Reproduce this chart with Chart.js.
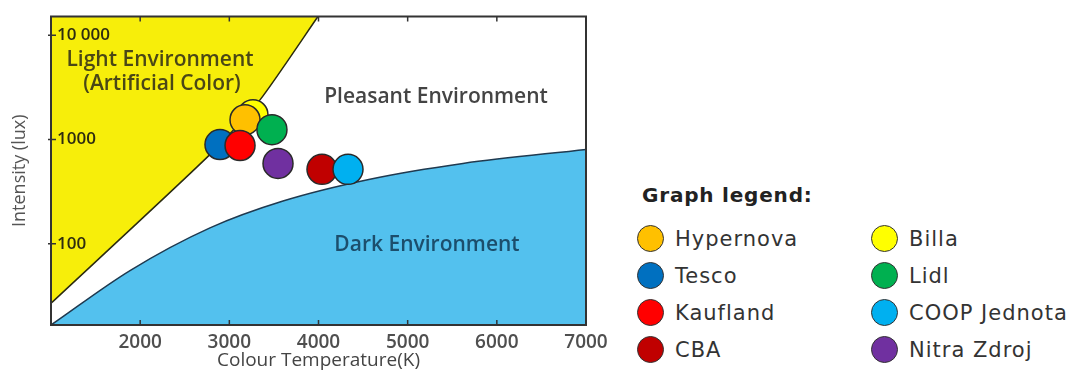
<!DOCTYPE html>
<html>
<head>
<meta charset="utf-8">
<script src="https://cdn.jsdelivr.net/npm/chart.js@4.4.1/dist/chart.umd.min.js"></script>
<style>
  body { margin: 0; background: #fff; width: 1090px; height: 374px; overflow: hidden; position: relative; }
  #wrap { position: absolute; left: 0; top: 0; width: 630px; height: 374px; }
  #legendTitle { position: absolute; left: 642px; top: 182px; font: bold 20px 'DejaVu Sans', sans-serif; letter-spacing: 0.8px; line-height: 26px; color: #222; }
  #legend { position: absolute; left: 637px; top: 220px; display: grid; grid-template-columns: 234px auto; grid-auto-flow: column; grid-template-rows: repeat(4, 37px); }
  .item { display: flex; align-items: center; font: 21px 'DejaVu Sans', sans-serif; letter-spacing: 1px; color: #333; }
  .dot { width: 25px; height: 25px; border-radius: 50%; border: 1.5px solid #333; margin-right: 11px; }
</style>
</head>
<body>
<div id="wrap"><canvas id="kruithof" width="630" height="374"></canvas></div>
<div id="legendTitle">Graph legend:</div>
<div id="legend"></div>
<script>
// stores, in legend order
const stores = ['Hypernova', 'Tesco', 'Kaufland', 'CBA', 'Billa', 'Lidl', 'COOP Jednota', 'Nitra Zdroj'];
const storeColors = ['#FFC000', '#0070C0', '#FF0000', '#C00000', '#FFFF00', '#00B050', '#00B0F0', '#7030A0'];
const cctK = [3176, 2895, 3120, 4039, 3265, 3478, 4331, 3546];
const lux = [1550, 896, 877, 518, 1730, 1245, 518, 590];
// higher = drawn later (on top)
const stackRank = [2, 4, 5, 7, 1, 3, 8, 6];

// region boundaries
const yellowEdgeK = [1000, 2761, 3344, 3994];
const yellowEdgeLux = [26.8, 689, 2404, 15170];
const blueEdgeK = [1000, 1886, 2783, 3602, 4577, 5620, 7000];
const blueEdgeLux = [16.6, 55.3, 142, 257, 416, 590, 804];

const xTicks = [2000, 3000, 4000, 5000, 6000, 7000];
const yTicks = [100, 1000, 10000];
const yTickLabels = ['100', '1000', '10 000'];

const pts = (xs, ys) => xs.map((x, i) => ({ x, y: ys[i] }));

const datasets = [
  {
    type: 'line',
    label: 'light',
    data: pts(yellowEdgeK, yellowEdgeLux),
    borderColor: '#2b2b10',
    borderWidth: 1.5,
    backgroundColor: '#f7ee0a',
    fill: 'end',
    pointRadius: 0,
    tension: 0.2,
    order: 100
  },
  {
    type: 'line',
    label: 'dark',
    data: pts(blueEdgeK, blueEdgeLux),
    borderColor: '#1f3a50',
    borderWidth: 1.5,
    backgroundColor: '#53c1ee',
    fill: 'start',
    pointRadius: 0,
    cubicInterpolationMode: 'monotone',
    order: 99
  }
];
stores.forEach((name, i) => {
  datasets.push({
    type: 'scatter',
    label: name,
    data: [{ x: cctK[i], y: lux[i] }],
    backgroundColor: storeColors[i],
    borderColor: '#2a2a2a',
    borderWidth: 1.5,
    pointRadius: 15,
    pointHoverRadius: 15,
    order: 20 - stackRank[i]
  });
});

const frame = {
  id: 'frame',
  afterDatasetsDraw(chart) {
    const { ctx, chartArea: a, scales } = chart;
    ctx.save();
    ctx.strokeStyle = '#333';
    ctx.lineWidth = 2;
    ctx.strokeRect(a.left, a.top, a.right - a.left, a.bottom - a.top);
    ctx.lineWidth = 1.5;
    ctx.beginPath();
    xTicks.forEach((v) => {
      const px = scales.x.getPixelForValue(v);
      ctx.moveTo(px, a.bottom); ctx.lineTo(px, a.bottom - 5);
      ctx.moveTo(px, a.top); ctx.lineTo(px, a.top + 5);
    });
    yTicks.forEach((v) => {
      const py = scales.y.getPixelForValue(v);
      ctx.moveTo(a.left - 3, py); ctx.lineTo(a.left + 5, py);
    });
    ctx.stroke();

    ctx.textAlign = 'center';
    ctx.textBaseline = 'middle';
    ctx.font = '600 21px "Open Sans", sans-serif';
    ctx.fillStyle = '#4a4716';
    ctx.fillText('Light Environment', a.left + 109, a.top + 44);
    ctx.fillText('(Artificial Color)', a.left + 111, a.top + 68);
    ctx.fillStyle = '#444';
    ctx.fillText('Pleasant Environment', a.left + 385, a.top + 81);
    ctx.fillStyle = '#1c4e6c';
    ctx.fillText('Dark Environment', a.left + 376, a.top + 229);
    ctx.restore();
  }
};

const chart = new Chart(document.getElementById('kruithof'), {
  type: 'scatter',
  data: { datasets },
  options: {
    responsive: false,
    animation: false,
    layout: { padding: { top: 14, right: 44, left: 0, bottom: 0 } },
    plugins: { legend: { display: false }, tooltip: { enabled: false } },
    scales: {
      x: {
        type: 'linear',
        min: 1000,
        max: 7000,
        afterBuildTicks: (s) => { s.ticks = xTicks.map((v) => ({ value: v })); },
        afterFit: (s) => { s.height = 49; s.paddingLeft = 0; s.paddingRight = 0; },
        grid: { display: false, drawTicks: false },
        border: { display: false },
        ticks: { padding: 6, color: '#4f4f4f', font: { family: 'Open Sans', size: 19, weight: '600' }, callback: (v) => String(v) },
        title: { display: true, text: 'Colour Temperature(K)', color: '#444', padding: { top: 0, bottom: 2 }, font: { family: 'Open Sans', size: 19 } }
      },
      y: {
        type: 'logarithmic',
        min: 16.6,
        max: 15170,
        afterBuildTicks: (s) => { s.ticks = yTicks.map((v) => ({ value: v })); },
        afterFit: (s) => { s.width = 51; s.paddingTop = 0; s.paddingBottom = 0; },
        grid: { display: false, drawTicks: false },
        border: { display: false },
        ticks: {
          z: 1,
          mirror: true,
          padding: 6,
          color: '#2e2c10',
          font: { family: 'Open Sans', size: 17, weight: '600' },
          callback: (v) => yTickLabels[yTicks.indexOf(v)]
        },
        title: { display: true, text: 'Intensity (lux)', color: '#555', padding: { top: 9, bottom: 0 }, font: { family: 'Open Sans', size: 18 } }
      }
    }
  },
  plugins: [frame]
});

const legend = document.getElementById('legend');
stores.forEach((name, i) => {
  const item = document.createElement('div');
  item.className = 'item';
  const dot = document.createElement('span');
  dot.className = 'dot';
  dot.style.background = storeColors[i];
  item.appendChild(dot);
  item.appendChild(document.createTextNode(name));
  legend.appendChild(item);
});
</script>
</body>
</html>
